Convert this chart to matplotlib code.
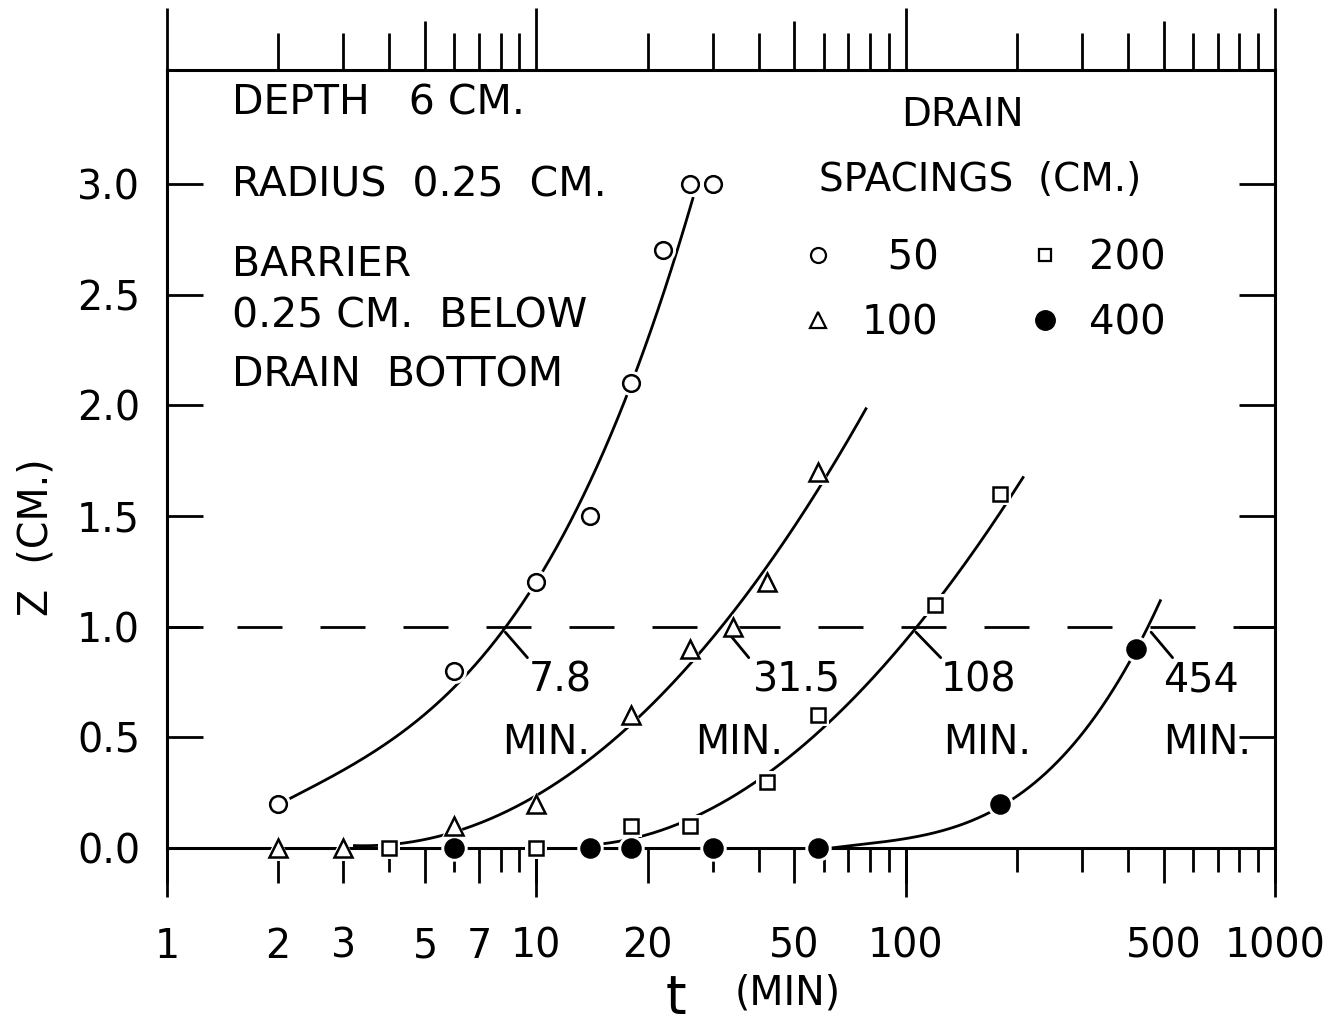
import numpy as np
import matplotlib
matplotlib.use('Agg')
import matplotlib.pyplot as plt
from matplotlib.lines import Line2D

plt.rcParams['font.family'] = ['DejaVu Sans']
plt.rcParams['lines.scale_dashes'] = False

# ---------------- data ----------------
# measured points, t in minutes, z in cm
t50 = [2, 6, 10, 14, 18, 22, 26, 30]
z50 = [0.2, 0.8, 1.2, 1.5, 2.1, 2.7, 3.0, 3.0]
t100 = [2, 3, 6, 10, 18, 26, 34, 42, 58]
z100 = [0.0, 0.0, 0.1, 0.2, 0.6, 0.9, 1.0, 1.2, 1.7]
t200 = [4, 10, 18, 26, 42, 58, 120, 180]
z200 = [0.0, 0.0, 0.1, 0.1, 0.3, 0.6, 1.1, 1.6]
t400 = [6, 14, 18, 30, 58, 180, 420]
z400 = [0.0, 0.0, 0.0, 0.0, 0.0, 0.2, 0.9]

# hand-drawn curves, points
c50_t = [2.13, 3.13, 4.28, 5.85, 8.14, 10.0, 11.6, 14.3, 18.0, 21.7, 26.6]
c50_z = [0.226, 0.352, 0.520, 0.723, 0.994, 1.188, 1.378, 1.695, 2.097, 2.463, 2.942]
c100_t = [3.19, 5.39, 6.62, 10.45, 13.16, 19.13, 26.15, 32.1, 40.45, 58.85, 78.4]
c100_z = [0.009, 0.059, 0.095, 0.249, 0.361, 0.601, 0.863, 0.999, 1.211, 1.649, 1.988]
c200_t = [15.2, 22.1, 32.1, 40.45, 56.3, 85.5, 105.1, 126.0, 159.7, 208.8]
c200_z = [0.018, 0.090, 0.203, 0.298, 0.533, 0.791, 0.972, 1.157, 1.392, 1.676]
c400_t = [61.4, 87.2, 119.1, 166.8, 196.2, 274.8, 337.7, 402.1, 452.7, 491.0]
c400_z = [0.0, 0.023, 0.068, 0.158, 0.230, 0.443, 0.610, 0.850, 0.999, 1.121]

z_ref = 1.0
cross_labels = ['7.8', '31.5', '108', '454']
spacing_labels = ['50', '100', '200', '400']

x_major = [1, 2, 3, 5, 7, 10, 20, 50, 100, 500, 1000]
x_major_labels = ['1', '2', '3', '5', '7', '10', '20', '50', '100', '500', '1000']
x_minor = [4, 6, 8, 9, 30, 40, 60, 70, 80, 90, 200, 300, 400, 600, 700, 800, 900]
x_decades = [1, 10, 100, 1000]
x_top_mid = [5, 50, 500]
x_top_minor = [2, 3, 4, 6, 7, 8, 9, 20, 30, 40, 60, 70, 80, 90,
               200, 300, 400, 600, 700, 800, 900]
y_ticks = [0.0, 0.5, 1.0, 1.5, 2.0, 2.5, 3.0]
y_tick_labels = ['0.0', '0.5', '1.0', '1.5', '2.0', '2.5', '3.0']

# ---------------- layout / style ----------------
FS = 28.5
FS_BLOCK = 29.5
PX = 72.0 / 100.0  # points per pixel at dpi 100

fig = plt.figure(figsize=(13.38, 10.25), dpi=100)
ax = fig.add_axes([167 / 1338, 177 / 1025, 1108 / 1338, 778 / 1025])
ax.set_xscale('log')
ax.set_xlim(1, 1000)
ax.set_ylim(0, 3.515)

for s in ax.spines.values():
    s.set_linewidth(2.2)

# bottom ticks
ax.set_xticks(x_major)
ax.set_xticklabels(x_major_labels, fontsize=FS)
ax.set_xticks(x_minor, minor=True)
ax.tick_params(axis='x', which='major', direction='out', length=35 * PX,
               width=2.0, pad=44 * PX, top=False)
ax.tick_params(axis='x', which='minor', direction='out', length=24 * PX,
               width=2.0, top=False, labelbottom=False)

# y ticks
ax.set_yticks(y_ticks)
ax.set_yticklabels(y_tick_labels, fontsize=FS)
ax.tick_params(axis='y', which='major', direction='in', length=36 * PX,
               width=2.0, pad=27 * PX, left=True, right=True, labelright=False)
ax.tick_params(axis='y', which='minor', left=False, right=False)

# long decade ticks below
secb = ax.secondary_xaxis('bottom')
secb.set_xticks(x_decades)
secb.set_xticks([], minor=True)
secb.tick_params(axis='x', which='major', direction='out', length=49 * PX,
                 width=2.0, labelbottom=False)
for s in secb.spines.values():
    s.set_visible(False)

# top ticks
sect = ax.secondary_xaxis('top')
sect.set_xticks(x_decades)
sect.set_xticks(x_top_minor, minor=True)
sect.tick_params(axis='x', which='major', direction='out', length=62 * PX,
                 width=2.0, labeltop=False)
sect.tick_params(axis='x', which='minor', direction='out', length=37 * PX,
                 width=2.0, labeltop=False)
for s in sect.spines.values():
    s.set_visible(False)

sect2 = ax.secondary_xaxis('top')
sect2.set_xticks(x_top_mid)
sect2.set_xticks([], minor=True)
sect2.tick_params(axis='x', which='major', direction='out', length=49 * PX,
                  width=2.0, labeltop=False)
for s in sect2.spines.values():
    s.set_visible(False)

# reference dashed line
ax.axhline(z_ref, color='k', lw=2.0, ls=(13 * PX, (45 * PX, 38 * PX)), zorder=1.8)

# curves
def draw_curve(ct, cz, deg=3):
    lt = np.log10(ct)
    p = np.polyfit(lt, cz, deg)
    xx = np.linspace(lt[0], lt[-1], 300)
    yy = np.clip(np.polyval(p, xx), 0, None)
    ax.plot(10 ** xx, yy, color='k', lw=2.0, zorder=2, solid_capstyle='butt')

draw_curve(c50_t, c50_z)
draw_curve(c100_t, c100_z)
draw_curve(c200_t, c200_z)
draw_curve(c400_t, c400_z)

# markers
series = [
    (t50, z50, 'o', 12.0, 'white'),
    (t100, z100, '^', 12.5, 'white'),
    (t200, z200, 's', 9.4, 'white'),
    (t400, z400, 'o', 13.0, 'black'),
]
for t, z, m, ms, fc in series:
    ax.plot(t, z, ls='none', marker=m, ms=ms + 6, mfc='white', mec='white',
            mew=0, zorder=3, clip_on=False)
    ax.plot(t, z, ls='none', marker=m, ms=ms, mfc=fc, mec='black', mew=1.8,
            zorder=4, clip_on=False)

# crossing annotations
lead_start_t = [8.24, 33.0, 106.6, 462.0]
lead_end_t = [9.46, 37.6, 124.4, 528.0]
num_t = [9.51, 38.5, 124.4, 497.0]
min_t = [8.09, 26.97, 126.0, 497.0]
for lab, ts, te, nt, mt in zip(cross_labels, lead_start_t, lead_end_t, num_t, min_t):
    ax.annotate('', xy=(ts, 0.975), xytext=(te, 0.86),
                arrowprops=dict(arrowstyle='-', lw=2.0, color='k',
                                shrinkA=0, shrinkB=0))
    ax.text(nt, 0.709, lab, fontsize=FS, ha='left', va='baseline')
    ax.text(mt, 0.425, 'MIN.', fontsize=FS, ha='left', va='baseline')

# block text
tr = ax.transAxes
ax.text(0.0587, 0.9434, 'DEPTH   6 CM.', fontsize=FS_BLOCK, transform=tr, va='baseline')
ax.text(0.0587, 0.8368, 'RADIUS  0.25  CM.', fontsize=FS_BLOCK, transform=tr, va='baseline')
ax.text(0.0587, 0.7352, 'BARRIER', fontsize=FS_BLOCK, transform=tr, va='baseline')
ax.text(0.0587, 0.6684, '0.25 CM.  BELOW', fontsize=FS_BLOCK, transform=tr, va='baseline')
ax.text(0.0587, 0.5938, 'DRAIN  BOTTOM', fontsize=FS_BLOCK, transform=tr, va='baseline')
ax.text(0.7175, 0.928, 'DRAIN', fontsize=28, transform=tr, va='baseline', ha='center')
ax.text(0.5884, 0.8445, 'SPACINGS  (CM.)', fontsize=28, transform=tr, va='baseline')

# legend
handles = [
    Line2D([], [], ls='none', marker='o', ms=10.8, mfc='white', mec='k', mew=1.6),
    Line2D([], [], ls='none', marker='^', ms=11.5, mfc='white', mec='k', mew=1.6),
    Line2D([], [], ls='none', marker='s', ms=8.5, mfc='white', mec='k', mew=1.6),
    Line2D([], [], ls='none', marker='o', ms=14.0, mfc='black', mec='k', mew=1.0),
]
width = max(len(s) for s in spacing_labels)
labels = [s.rjust(width, '\u2007') for s in spacing_labels]
leg = ax.legend(handles, labels, ncol=2, frameon=False, fontsize=29,
                loc='upper left', bbox_to_anchor=(0.5694, 0.784),
                borderpad=0, borderaxespad=0, handlelength=1.0,
                handletextpad=0.59, columnspacing=2.13, labelspacing=0.62)

# axis labels
ax.set_ylabel('Z  (CM.)', fontsize=FS)
ax.yaxis.set_label_coords(-0.100, 0.40)
ax.text(0.4594, -0.2121, 't', fontsize=38, transform=tr, ha='center', va='baseline')
ax.text(0.5126, -0.2014, '(MIN)', fontsize=FS, transform=tr, ha='left', va='baseline')

fig.savefig('out.png', dpi=100, facecolor='white')
